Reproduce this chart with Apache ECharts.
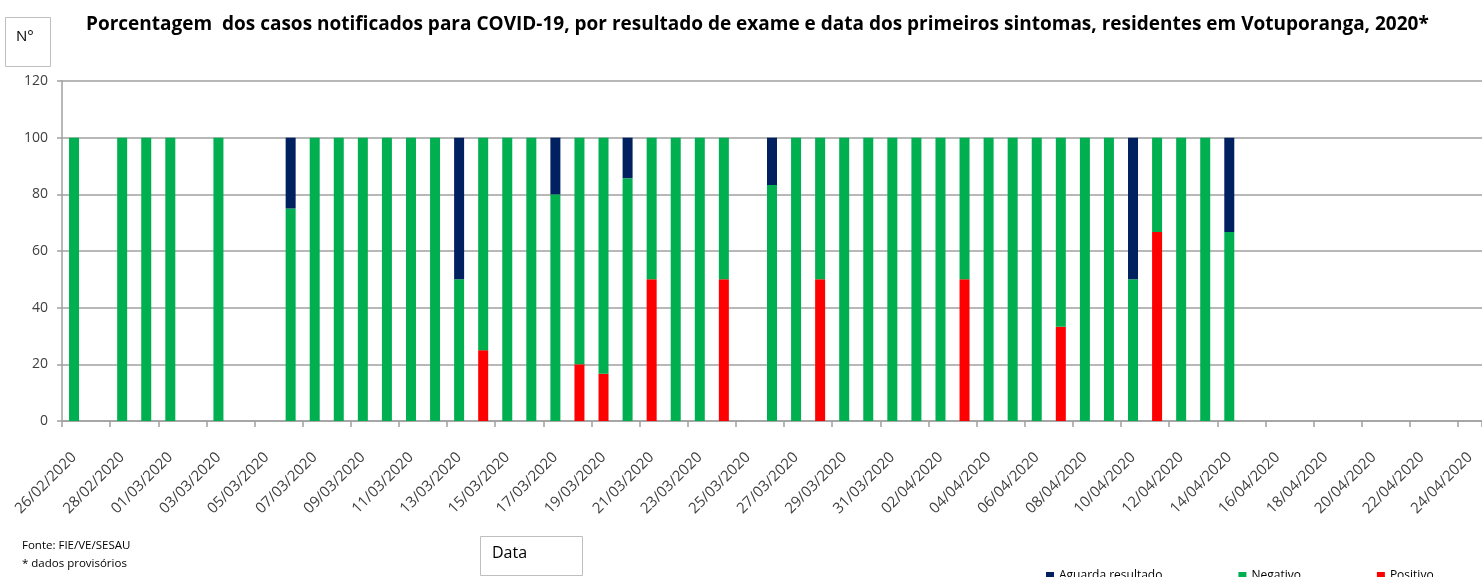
<!DOCTYPE html>
<html>
<head>
<meta charset="utf-8">
<script src="https://cdn.jsdelivr.net/npm/echarts@6/dist/echarts.min.js"></script>
<style>
html, body { margin: 0; padding: 0; background: #fff; }
#chart { width: 1482px; height: 577px; }
</style>
</head>
<body>
<div id="chart"></div>
<script>
var datas = ["26/02/2020", "27/02/2020", "28/02/2020", "29/02/2020", "01/03/2020", "02/03/2020", "03/03/2020", "04/03/2020",
    "05/03/2020", "06/03/2020", "07/03/2020", "08/03/2020", "09/03/2020", "10/03/2020", "11/03/2020", "12/03/2020",
    "13/03/2020", "14/03/2020", "15/03/2020", "16/03/2020", "17/03/2020", "18/03/2020", "19/03/2020", "20/03/2020",
    "21/03/2020", "22/03/2020", "23/03/2020", "24/03/2020", "25/03/2020", "26/03/2020", "27/03/2020", "28/03/2020",
    "29/03/2020", "30/03/2020", "31/03/2020", "01/04/2020", "02/04/2020", "03/04/2020", "04/04/2020", "05/04/2020",
    "06/04/2020", "07/04/2020", "08/04/2020", "09/04/2020", "10/04/2020", "11/04/2020", "12/04/2020", "13/04/2020",
    "14/04/2020", "15/04/2020", "16/04/2020", "17/04/2020", "18/04/2020", "19/04/2020", "20/04/2020", "21/04/2020",
    "22/04/2020", "23/04/2020", "24/04/2020"];

var positivo = [null, null, null, null, null, null, null, null,
    null, null, null, null, null, null, null, null,
    null, 25, null, null, null, 20, 16.7, null,
    50, null, null, 50, null, null, null, 50,
    null, null, null, null, null, 50, null, null,
    null, 33.3, null, null, null, 66.7, null, null,
    null, null, null, null, null, null, null, null,
    null, null, null];

var negativo = [100, null, 100, 100, 100, null, 100, null,
    null, 75, 100, 100, 100, 100, 100, 100,
    50, 75, 100, 100, 80, 80, 83.3, 85.7,
    50, 100, 100, 50, null, 83.3, 100, 50,
    100, 100, 100, 100, 100, 50, 100, 100,
    100, 66.7, 100, 100, 50, 33.3, 100, 100,
    66.7, null, null, null, null, null, null, null,
    null, null, null];

var aguarda = [null, null, null, null, null, null, null, null,
    null, 25, null, null, null, null, null, null,
    50, null, null, null, 20, null, null, 14.3,
    null, null, null, null, null, 16.7, null, null,
    null, null, null, null, null, null, null, null,
    null, null, null, null, 50, null, null, null,
    33.3, null, null, null, null, null, null, null,
    null, null, null];

var yTicks = [0, 20, 40, 60, 80, 100, 120];

var titulo = "Porcentagem  dos casos notificados para COVID-19, por resultado de exame e data dos primeiros sintomas, residentes em Votuporanga, 2020*";

function buildSerie(name, color, data) {
    return {
        name: name,
        type: "bar",
        stack: "total",
        barWidth: 10,
        itemStyle: {color: color},
        data: data
    };
}

var chart = echarts.init(document.getElementById("chart"));

var option = {
    animation: false,
    textStyle: {fontFamily: "Open Sans"},
    title: {
        text: titulo,
        left: 81,
        top: 10,
        textStyle: {fontSize: 19, fontWeight: "bold", color: "#000", fontFamily: "Open Sans"}
    },
    legend: {
        data: ["Aguarda resultado", "Negativo", "Positivo"],
        left: 1041,
        top: 565,
        icon: "rect",
        itemWidth: 8,
        itemHeight: 8,
        itemGap: 76,
        textStyle: {fontSize: 12, color: "#000"}
    },
    grid: {left: 62, right: -11, top: 81, bottom: 156},
    xAxis: {
        type: "category",
        data: datas,
        boundaryGap: true,
        axisLine: {lineStyle: {color: "#a0a0a0", width: 1.5}},
        axisTick: {show: true, interval: 1, length: 6, lineStyle: {color: "#a0a0a0", width: 1.5}},
        axisLabel: {interval: 1, rotate: 45, fontSize: 15, color: "#404040", margin: 34}
    },
    yAxis: {
        type: "value",
        min: yTicks[0],
        max: yTicks[yTicks.length - 1],
        interval: 20,
        axisLine: {show: true, lineStyle: {color: "#a0a0a0", width: 1.5}},
        axisTick: {show: true, length: 5, lineStyle: {color: "#a0a0a0", width: 1.5}},
        axisLabel: {fontSize: 14, color: "#404040", margin: 14},
        splitLine: {lineStyle: {color: "#a0a0a0", width: 1.5}}
    },
    graphic: [
        {type: "rect", shape: {x: 5.5, y: 17.5, width: 45, height: 49}, style: {fill: "#fff", stroke: "#bfbfbf", lineWidth: 1}},
        {type: "text", left: 16, top: 29, style: {text: "N°", fontSize: 15, fill: "#000", fontFamily: "Open Sans"}},
        {type: "rect", shape: {x: 480.5, y: 536.5, width: 102, height: 39}, style: {fill: "#fff", stroke: "#bfbfbf", lineWidth: 1}},
        {type: "text", left: 492, top: 545, style: {text: "Data", fontSize: 16, fill: "#000", fontFamily: "Open Sans"}},
        {type: "text", left: 22, top: 540, style: {text: "Fonte: FIE/VE/SESAU", fontSize: 11.5, fill: "#000", fontFamily: "Open Sans"}},
        {type: "text", left: 22, top: 558, style: {text: "* dados provisórios", fontSize: 11.5, fill: "#000", fontFamily: "Open Sans"}}
    ],
    series: [
        buildSerie("Positivo", "#ff0000", positivo),
        buildSerie("Negativo", "#00b050", negativo),
        buildSerie("Aguarda resultado", "#002060", aguarda)
    ]
};

chart.setOption(option);
</script>
</body>
</html>
